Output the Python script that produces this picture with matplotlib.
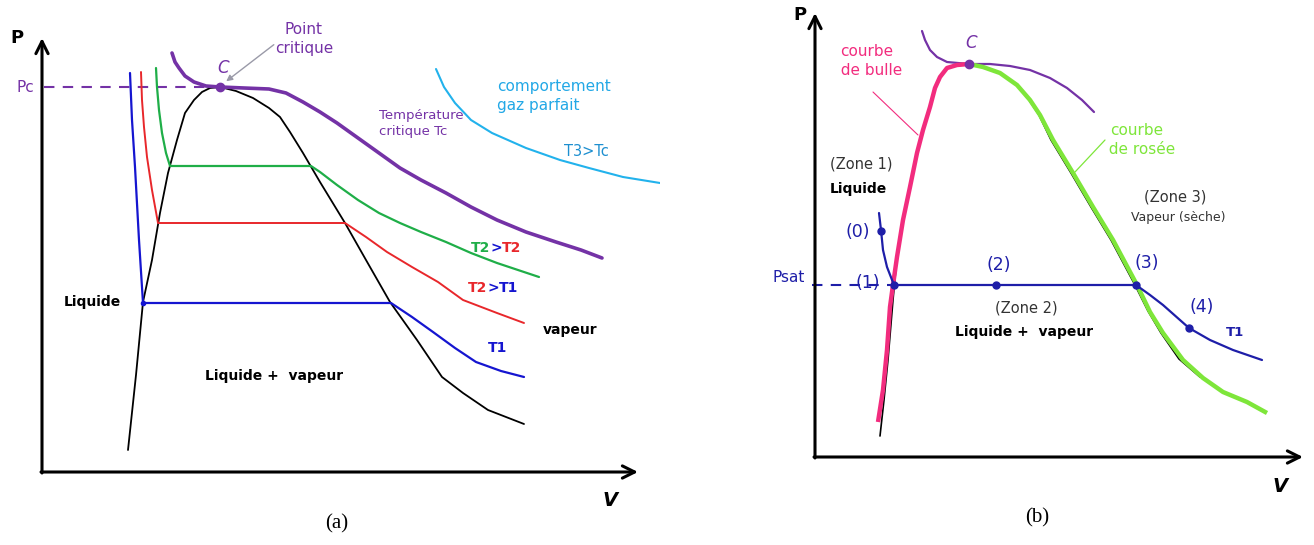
import matplotlib
matplotlib.use("Agg")
import matplotlib.pyplot as plt

plt.rcParams["lines.solid_joinstyle"] = "round"
plt.rcParams["lines.solid_capstyle"] = "round"

# ---- panel (a): isothermes dans le diagramme de Clapeyron ----
dome_v = [86, 94, 101, 110, 118, 126, 135, 143, 152, 160, 168, 178, 194, 211, 227, 238, 248, 261,
          278, 303, 324, 348, 375, 400, 421, 446, 482]
dome_p = [22, 97, 170, 212, 259, 299, 332, 359, 372, 380, 384, 385, 381, 374, 364, 355, 340, 319,
          290, 249, 212, 170, 132, 95, 79, 62, 48]

tc_v = [130, 133, 137, 143, 152, 164, 178, 202, 227, 244, 261, 278, 295, 316, 337, 358, 379, 404,
        429, 455, 484, 514, 539, 560]
tc_p = [419, 410, 404, 396, 390, 386, 385, 384, 383, 379, 370, 360, 349, 334, 319, 304, 292, 279,
        265, 252, 240, 230, 222, 214]

t3_v = [394, 402, 413, 429, 450, 484, 518, 547, 581, 618, 635]
t3_p = [403, 385, 369, 352, 339, 324, 312, 304, 295, 289, 288]

t2g_v = [114, 115, 117, 120, 124, 128, 269, 278, 295, 316, 337, 358, 379, 404, 429, 455, 476, 497]
t2g_p = [404, 385, 362, 339, 319, 306, 306, 300, 287, 272, 259, 249, 240, 230, 219, 209, 202, 195]

t2r_v = [99, 100, 102, 105, 110, 116, 303, 324, 345, 370, 396, 421, 455, 482]
t2r_p = [400, 372, 345, 315, 282, 249, 249, 235, 220, 205, 190, 172, 159, 149]

t1_v = [88, 90, 93, 97, 101, 349, 370, 391, 413, 434, 459, 482]
t1_p = [399, 352, 305, 232, 169, 169, 155, 140, 124, 110, 101, 95]

crit_a = (178, 385)

# ---- panel (b): les trois zones ----
tcb_v = [107, 110, 115, 122, 132, 154, 175, 195, 215, 235, 252, 267, 279]
tcb_p = [426, 417, 407, 400, 395, 393, 393, 391, 387, 379, 369, 357, 345]

bulle_v = [63, 68, 72, 75, 78, 82, 88, 95, 102, 108, 115, 120, 125, 132, 142, 154]
bulle_p = [35, 67, 107, 150, 172, 200, 237, 270, 304, 327, 350, 369, 380, 389, 392, 393]

rosee_v = [154, 168, 185, 202, 215, 225, 238, 258, 278, 298, 322, 335, 348, 368, 388, 408, 432, 452]
rosee_p = [393, 390, 384, 372, 357, 342, 317, 284, 250, 217, 172, 145, 124, 97, 79, 65, 55, 44]

domeb_v = [65, 69, 73, 78, 82, 88, 95, 102, 108, 115, 120, 125, 132, 142, 154, 168, 185, 202, 214,
           224, 236, 256, 276, 296, 320, 333, 346, 364, 385]
domeb_p = [21, 57, 97, 157, 200, 237, 270, 304, 327, 350, 369, 380, 389, 392, 393, 390, 384, 372, 357,
           342, 317, 284, 250, 217, 172, 146, 124, 98, 80]

t1b_v = [64, 66, 68, 72, 79, 321, 335, 348, 374, 395, 418, 447]
t1b_p = [244, 227, 207, 190, 172, 172, 162, 152, 129, 117, 107, 97]

pts_v = [66, 79, 181, 321, 374]
pts_p = [226, 172, 172, 172, 129]
pts_lbl = ["(0)", "(1)", "(2)", "(3)", "(4)"]
crit_b = (154, 393)

PURPLE = "#7432a6"
FONT = "DejaVu Sans"

fig = plt.figure(figsize=(13.14, 5.45), dpi=100)
axa = fig.add_axes([0, 0, 660 / 1314, 1])
axb = fig.add_axes([660 / 1314, 0, 654 / 1314, 1])
axa.set_xlim(-42, 618)
axa.set_ylim(-73, 472)
axb.set_xlim(-155, 499)
axb.set_ylim(-88, 457)
for ax in (axa, axb):
    ax.axis("off")


def axes_arrows(ax, vmax, pmax):
    arr = dict(arrowstyle="->", lw=2.2, color="black", mutation_scale=22,
               shrinkA=0, shrinkB=0)
    ax.annotate("", xy=(0, pmax), xytext=(0, -1), arrowprops=arr)
    ax.annotate("", xy=(vmax, 0), xytext=(-1, 0), arrowprops=arr)


# ---------------- (a) ----------------
axes_arrows(axa, 596, 434)
axa.plot([2, crit_a[0]], [crit_a[1], crit_a[1]], ls=(0, (5, 4)), color=PURPLE, lw=1.5,
         dash_capstyle="butt")
axa.plot(dome_v, dome_p, color="black", lw=1.3)
axa.plot(t1_v, t1_p, color="#1515d0", lw=1.6)
axa.plot(t2r_v, t2r_p, color="#e8272b", lw=1.4)
axa.plot(t2g_v, t2g_p, color="#1fae48", lw=1.6)
axa.plot(t3_v, t3_p, color="#22b2ec", lw=1.5)
axa.plot(tc_v, tc_p, color=PURPLE, lw=2.6)
axa.plot(*crit_a, "o", color=PURPLE, ms=6)
axa.plot(t1_v[4], t1_p[4], "o", color="#1515d0", ms=3)

axa.text(-25, 434, "P", fontsize=13, fontweight="bold", family=FONT, ha="center", va="center")
axa.text(-17, 385, "Pc", fontsize=11, color=PURPLE, family=FONT, ha="center", va="center")
axa.text(181, 404, "C", fontsize=12, color=PURPLE, family=FONT, style="italic", ha="center", va="center")
axa.text(262, 433, "Point\ncritique", fontsize=11, color=PURPLE, family=FONT, ha="center",
         va="center", linespacing=1.3)
axa.annotate("", xy=(182, 389), xytext=(234, 429),
             arrowprops=dict(arrowstyle="-|>", color="#9a9aa8", lw=1.0, mutation_scale=9))
axa.text(337, 349, "Température\ncritique Tc", fontsize=9.5, color=PURPLE, family=FONT,
         ha="left", va="center", linespacing=1.3)
axa.text(455, 376, "comportement\ngaz parfait", fontsize=11, color="#22a8e6", family=FONT,
         ha="left", va="center", linespacing=1.3)
axa.text(522, 320, "T3>Tc", fontsize=10.5, color="#1d8fd0", family=FONT, ha="left", va="center")


def colored_label(ax, v, p, parts, size=10):
    # consecutive pieces of one label in different colours
    t = None
    for i, (txt, col) in enumerate(parts):
        if i == 0:
            t = ax.text(v, p, txt, color=col, fontsize=size, fontweight="bold",
                        family=FONT, ha="left", va="center")
        else:
            t = ax.annotate(txt, xycoords=t, xy=(1, 0), va="bottom", color=col,
                            fontsize=size, fontweight="bold", family=FONT)


colored_label(axa, 429, 224, [("T2", "#1fae48"), (">", "#1515d0"), ("T2", "#e8272b")])
colored_label(axa, 426, 184, [("T2", "#e8272b"), (">", "#1515d0"), ("T1", "#1515d0")])
axa.text(446, 124, "T1", fontsize=10, fontweight="bold", color="#1515d0", family=FONT, va="center")
axa.text(501, 142, "vapeur", fontsize=10, fontweight="bold", family=FONT, va="center")
axa.text(22, 170, "Liquide", fontsize=10, fontweight="bold", family=FONT, va="center")
axa.text(163, 96, "Liquide +  vapeur", fontsize=10, fontweight="bold", family=FONT, va="center")
axa.text(568, -28, "V", fontsize=14, fontweight="bold", style="italic", family=FONT,
         ha="center", va="center")
axa.text(295, -52, "(a)", fontsize=15, family="Liberation Serif", ha="center", va="center")

# ---------------- (b) ----------------
BLUE = "#1e1ea8"
PINK = "#f22c7e"
LIME = "#7ee63a"
axes_arrows(axb, 488, 444)
axb.plot([-3, pts_v[1]], [pts_p[1], pts_p[1]], ls=(0, (5, 4)), color=BLUE, lw=1.5,
         dash_capstyle="butt")
axb.plot(domeb_v, domeb_p, color="black", lw=1.2)
axb.plot(tcb_v, tcb_p, color=PURPLE, lw=1.6)
axb.plot(bulle_v, bulle_p, color=PINK, lw=3.2, solid_capstyle="butt")
axb.plot(rosee_v, rosee_p, color=LIME, lw=3.2, solid_capstyle="butt")
axb.plot(t1b_v, t1b_p, color=BLUE, lw=1.6)
axb.plot(pts_v, pts_p, "o", color=BLUE, ms=5)
axb.plot(*crit_b, "o", color=PURPLE, ms=6)

lbl_off = [(-23, -1), (-26, 2), (3, 20), (11, 22), (13, 21)]
for v, p, s, (dv, dp) in zip(pts_v, pts_p, pts_lbl, lbl_off):
    axb.text(v + dv, p + dp, s, fontsize=12.5, color=BLUE, family=FONT, ha="center", va="center")

axb.text(-15, 442, "P", fontsize=13, fontweight="bold", family=FONT, ha="center", va="center")
axb.text(156, 414, "C", fontsize=12, color=PURPLE, family=FONT, style="italic", ha="center", va="center")
axb.text(-10, 179, "Psat", fontsize=11, color=BLUE, family=FONT, ha="right", va="center")
axb.text(52, 396, "courbe\n  de bulle", fontsize=11, color=PINK, family=FONT, ha="center",
         va="center", linespacing=1.3)
axb.plot([58, 103], [365, 322], color=PINK, lw=0.8)
axb.text(322, 317, "courbe\n  de rosée", fontsize=11, color=LIME, family=FONT, ha="center",
         va="center", linespacing=1.3)
axb.plot([290, 260], [317, 285], color=LIME, lw=0.9)
axb.text(15, 293, "(Zone 1)", fontsize=10.5, color="#333333", family=FONT, va="center")
axb.text(15, 268, "Liquide", fontsize=10, fontweight="bold", family=FONT, va="center")
axb.text(360, 260, "(Zone 3)", fontsize=10.5, color="#333333", family=FONT, ha="center", va="center")
axb.text(363, 240, "Vapeur (sèche)", fontsize=9, color="#333333", family=FONT, ha="center", va="center")
axb.text(211, 149, "(Zone 2)", fontsize=10.5, color="#333333", family=FONT, ha="center", va="center")
axb.text(209, 125, "Liquide +  vapeur", fontsize=10, fontweight="bold", family=FONT,
         ha="center", va="center")
axb.text(420, 125, "T1", fontsize=9.5, fontweight="bold", color=BLUE, family=FONT, ha="center", va="center")
axb.text(465, -30, "V", fontsize=14, fontweight="bold", style="italic", family=FONT,
         ha="center", va="center")
axb.text(222, -61, "(b)", fontsize=15, family="Liberation Serif", ha="center", va="center")

fig.savefig("out.png", dpi=100)
